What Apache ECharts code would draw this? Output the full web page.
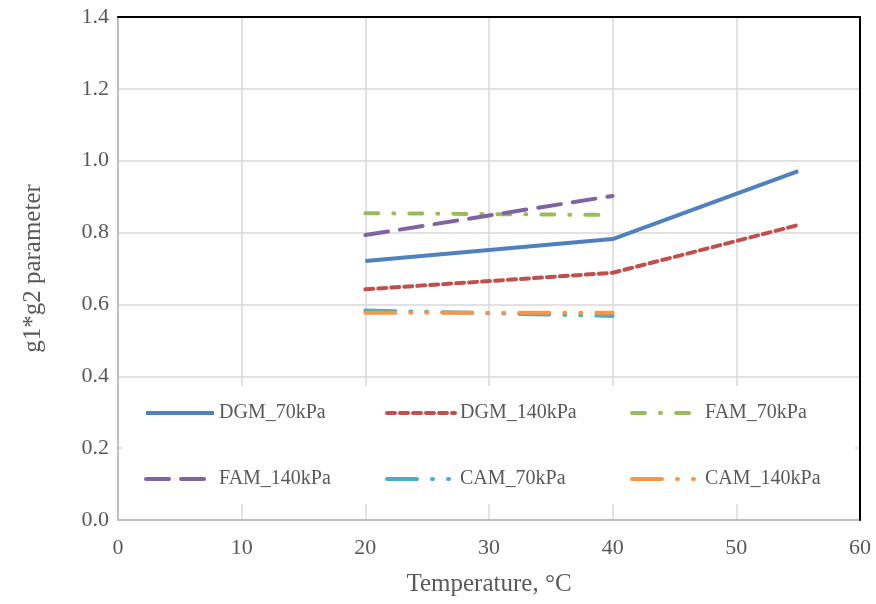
<!DOCTYPE html>
<html>
<head>
<meta charset="utf-8">
<script src="https://cdn.jsdelivr.net/npm/echarts@6/dist/echarts.min.js"></script>
<style>
  html, body { margin: 0; padding: 0; background: #fff; }
  #chart { width: 876px; height: 604px; }
</style>
</head>
<body>
<div id="chart"></div>
<script>
// temperatures (°C)
const tempsDGM = [20, 40, 55];
const tempsOther = [20, 40];

// g1*g2 parameter values
const dgm70 = [0.721, 0.782, 0.971];
const dgm140 = [0.642, 0.688, 0.821];
const fam70 = [0.854, 0.849];
const fam140 = [0.793, 0.902];
const cam70 = [0.583, 0.568];
const cam140 = [0.577, 0.577];

const seriesNames = ['DGM_70kPa', 'DGM_140kPa', 'FAM_70kPa', 'FAM_140kPa', 'CAM_70kPa', 'CAM_140kPa'];
const colors = ['#4F81BD', '#C0504D', '#9BBB59', '#8064A2', '#4BACC6', '#F79646'];
const dashes = ['solid', [8, 5], [13, 15, 1, 15], [23, 12], [30, 15, 1, 15, 1, 15], [30, 15, 1, 15, 1, 15]];

const xTicks = { min: 0, max: 60, interval: 10 };
const yTicks = { min: 0, max: 1.4, interval: 0.2 };

const font = '"Liberation Serif", "Times New Roman", serif';
const textGray = '#595959';

function pairs(xs, ys) {
  return xs.map((x, i) => [x, ys[i]]);
}

const seriesData = [
  pairs(tempsDGM, dgm70),
  pairs(tempsDGM, dgm140),
  pairs(tempsOther, fam70),
  pairs(tempsOther, fam140),
  pairs(tempsOther, cam70),
  pairs(tempsOther, cam140)
];

let _series = [];
seriesNames.forEach((name, i) => {
  _series.push({
    name: name,
    type: 'line',
    data: seriesData[i],
    symbol: 'none',
    z: 3,
    lineStyle: {
      color: colors[i],
      width: 4,
      type: dashes[i],
      cap: i === 0 ? 'butt' : 'round'
    },
    itemStyle: { color: colors[i] }
  });
});

// legend laid out like Excel: 3 columns x 2 rows
function legendColumn(left, names) {
  return {
    orient: 'vertical',
    left: left,
    top: 396,
    itemWidth: 68,
    itemHeight: 14,
    itemGap: 42,
    data: names,
    itemStyle: { opacity: 0 },
    lineStyle: { width: 4 },
    textStyle: { fontFamily: font, fontSize: 20, color: textGray, lineHeight: 24 },
    z: 5
  };
}

const chart = echarts.init(document.getElementById('chart'), null, { renderer: 'canvas' });

const axisFont = { fontFamily: font, fontSize: 22, color: textGray };
const grayLine = { color: '#BFBFBF', width: 2 };
const gridLine = { color: '#D9D9D9', width: 1.5 };

chart.setOption({
  backgroundColor: '#fff',
  animation: false,
  grid: { left: 118, right: 16, top: 17, bottom: 84 },
  legend: [
    legendColumn(139, [seriesNames[0], seriesNames[3]]),
    legendColumn(380, [seriesNames[1], seriesNames[4]]),
    legendColumn(625, [seriesNames[2], seriesNames[5]])
  ],
  graphic: [{
    type: 'rect',
    shape: { x: 122, y: 386, width: 733, height: 118 },
    style: { fill: '#fff' },
    z: 1
  }],
  xAxis: [{
    type: 'value',
    min: xTicks.min, max: xTicks.max, interval: xTicks.interval,
    name: 'Temperature, °C',
    nameLocation: 'middle',
    nameGap: 52,
    nameTextStyle: { fontFamily: font, fontSize: 25, color: textGray },
    axisLine: { show: true, onZero: false, lineStyle: grayLine },
    axisTick: { show: false },
    axisLabel: Object.assign({ margin: 17 }, axisFont),
    splitLine: { show: true, lineStyle: gridLine }
  }, {
    // black frame on top
    type: 'value',
    position: 'top',
    min: xTicks.min, max: xTicks.max, interval: xTicks.interval,
    axisLine: { show: true, onZero: false, lineStyle: { color: '#000', width: 2 } },
    axisTick: { show: false },
    axisLabel: { show: false },
    splitLine: { show: false },
    z: 4
  }],
  yAxis: [{
    type: 'value',
    min: yTicks.min, max: yTicks.max, interval: yTicks.interval,
    name: 'g1*g2 parameter',
    nameLocation: 'middle',
    nameGap: 72,
    nameTextStyle: { fontFamily: font, fontSize: 25, color: textGray },
    axisLine: { show: true, onZero: false, lineStyle: grayLine },
    axisTick: { show: false },
    axisLabel: Object.assign({ margin: 9, formatter: v => v.toFixed(1) }, axisFont),
    splitLine: { show: true, lineStyle: gridLine }
  }, {
    // black frame on the right
    type: 'value',
    position: 'right',
    min: yTicks.min, max: yTicks.max, interval: yTicks.interval,
    axisLine: { show: true, onZero: false, lineStyle: { color: '#000', width: 2 } },
    axisTick: { show: false },
    axisLabel: { show: false },
    splitLine: { show: false },
    z: 4
  }],
  series: _series
});
</script>
</body>
</html>
